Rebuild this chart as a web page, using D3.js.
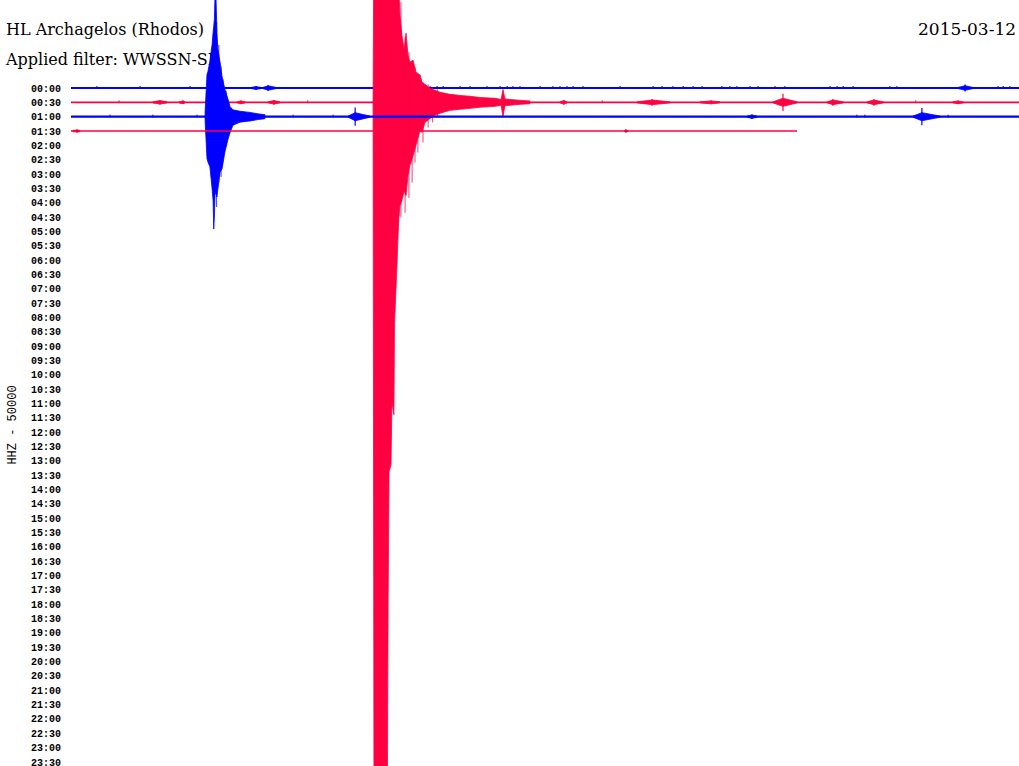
<!DOCTYPE html>
<html>
<head>
<meta charset="utf-8">
<title>HL Archagelos helicorder</title>
<script src="https://d3js.org/d3.v7.min.js"></script>
<style>
body { margin: 0; background: #fff; }
svg { display: block; background: #fff; }
.head { font-family: "DejaVu Serif", serif; font-size: 16px; fill: #000; }
.rowlabel { font-family: "Liberation Mono", monospace; font-size: 10px; font-weight: bold; fill: #000; }
.chan { font-family: "Liberation Mono", monospace; font-size: 12px; fill: #000; }
</style>
</head>
<body>
<svg width="1019" height="766"></svg>
<script>
// header texts
var station = "HL Archagelos (Rhodos)";
var filterText = "Applied filter: WWSSN-SP";
var dayText = "2015-03-12";
var channelText = "HHZ - 50000";

// one row = 30 minutes, amplitude in thousands of counts (50k per row)
var rowMinutes = 30;
var countsPerRow = 50;
var rowLabels = ["00:00","00:30","01:00","01:30","02:00","02:30","03:00","03:30",
  "04:00","04:30","05:00","05:30","06:00","06:30","07:00","07:30",
  "08:00","08:30","09:00","09:30","10:00","10:30","11:00","11:30",
  "12:00","12:30","13:00","13:30","14:00","14:30","15:00","15:30",
  "16:00","16:30","17:00","17:30","18:00","18:30","19:00","19:30",
  "20:00","20:30","21:00","21:30","22:00","22:30","23:00","23:30"];
var traceColors = ["#0000ff", "#ff0040"];
// minutes recorded in each row so far
var recorded = [30, 30, 30, 22.69];

// big events envelope: [minute, upper kcounts, lower kcounts]
var quakeRow2 = [[4.19,17,-14],[4.25,147,-147],[4.28,158,-158],[4.34,193,-175],[4.38,228,-217],
  [4.41,252,-252],[4.44,294,-291],[4.46,315,-392],[4.48,340,-350],[4.50,420,-273],[4.53,420,-263],
  [4.56,294,-280],[4.59,235,-252],[4.66,189,-193],[4.72,140,-182],[4.81,95,-123],[4.91,60,-77],
  [4.97,35,-56],[5.06,24,-30],[5.28,19,-19],[5.59,15,-15],[5.84,10,-10],[6.06,7,-7]];
var quakeRow1 = [[9.44,5,-5],[9.47,700,-2600],[9.88,700,-2600],[9.91,700,-1743],[9.94,700,-1288],
  [10.0,700,-1264],[10.03,700,-1043],[10.09,700,-1089],[10.11,700,-770],[10.19,700,-560],
  [10.22,700,-466],[10.25,380,-396],[10.28,305,-360],[10.34,235,-343],[10.41,182,-308],
  [10.47,241,-325],[10.53,165,-256],[10.59,140,-220],[10.69,147,-186],[10.78,105,-150],
  [10.91,95,-98],[10.97,70,-105],[11.06,63,-70],[11.22,49,-56],[11.38,42,-45],[11.53,35,-38],
  [11.84,28,-28],[12.16,24,-24],[12.47,21,-21],[12.78,17,-17],[13.25,14,-14],[13.44,10,-10],
  [13.5,45,-49],[13.56,12,-12],[13.72,10,-10],[14.03,7,-7],[14.34,5,-5]];
// thin peaks sticking out of the envelopes: [minute, upper, lower]
var peaksRow1 = [[10.31,350,-400],[10.44,228,-385],[10.56,175,-333],[10.66,140,-280],
  [10.75,123,-210],[10.84,88,-175],[11.0,70,-140],[11.16,63,-88],[11.3,52,-70],[11.45,45,-52]];
var peaksRow2 = [[4.55,330,-315],[4.62,250,-230],[4.69,175,-210],[4.75,130,-150],[4.85,90,-100]];

// small wavelets: [start, peak, end, body kcounts, peak kcounts]
var bursts0 = [[5.63,5.78,5.94,5,7],[6.0,6.16,6.41,8,10],[27.72,27.94,28.19,8,12]];
var bursts1 = [[2.56,2.78,3.0,6,8],[3.38,3.5,3.56,5,6],[5.19,5.31,5.44,5,6],[6.16,6.34,6.53,6,8],
  [15.28,15.4,15.5,6,8],[17.69,18.16,18.72,8,12],[19.66,20.0,20.28,5,7],[21.94,22.25,22.69,14,30],
  [23.63,23.81,24.13,8,12],[24.88,25.09,25.38,8,12],[27.56,27.72,27.88,5,6]];
var bursts2 = [[8.66,8.88,9.34,14,32],[21.13,21.28,21.44,6,8],[26.31,26.59,27.16,14,30]];
var bursts3 = [[0.06,0.19,0.28,4,5],[17.3,17.34,17.4,4,5]];

// single noise spikes (minute)
var spikes0 = [0.81,2.16,3.72,11.22,11.44,11.63,12.16,12.47,13.0,13.41,13.63,13.81,14.03,14.66,
  15.06,15.28,15.5,15.69,16.0,17.16,18.19,18.47,18.81,19.13,19.44,19.72,20.34,20.59,20.81,21.22,
  21.47,22.0,22.31,23.72,23.94,24.13,24.44,25.59,25.81,28.97,29.13,29.34];
var spikes1 = [1.5, 4.6, 7.4, 16.6, 26.4];
var spikes2 = [1.22,2.56,3.94,5.91,6.94,8.19,24.56,24.81,27.41];
var spikes3 = [];

var svg = d3.select("svg");
var x = d3.scaleLinear().domain([0, rowMinutes]).range([71, 1031]);
var rowY = d3.scaleLinear().domain([0, rowLabels.length - 1]).range([88, 762]);
var amp = d3.scaleLinear().domain([0, countsPerRow]).range([0, rowY(1) - rowY(0)]);

svg.append("text").attr("class", "head").attr("x", 6).attr("y", 35).text(station);
svg.append("text").attr("class", "head").attr("x", 6).attr("y", 65).text(filterText);
svg.append("text").attr("class", "head").attr("x", 918).attr("y", 35)
  .style("font-size", "17px").text(dayText);

svg.append("g").selectAll("text")
  .data(rowLabels)
  .enter().append("text")
    .attr("class", "rowlabel")
    .attr("x", 61)
    .attr("y", function(d, i) { return rowY(i); })
    .attr("dy", "0.35em")
    .attr("text-anchor", "end")
    .text(function(d) { return d; });

svg.append("text").attr("class", "chan")
  .attr("transform", "translate(16,425) rotate(-90)")
  .attr("text-anchor", "middle")
  .text(channelText);

var rows = [
  {bursts: bursts0, spikes: spikes0, quake: null, peaks: []},
  {bursts: bursts1, spikes: spikes1, quake: quakeRow1, peaks: peaksRow1},
  {bursts: bursts2, spikes: spikes2, quake: quakeRow2, peaks: peaksRow2},
  {bursts: bursts3, spikes: spikes3, quake: null, peaks: []}
];

rows.forEach(function(r, i) {
  var col = traceColors[i % 2];
  var base = rowY(i);
  var g = svg.append("g");
  var area = d3.area()
    .x(function(d) { return x(d[0]); })
    .y0(function(d) { return base - amp(d[1]); })
    .y1(function(d) { return base - amp(d[2]); });

  g.append("line")
    .attr("x1", x(0)).attr("x2", x(recorded[i]))
    .attr("y1", base).attr("y2", base)
    .attr("stroke", col)
    .attr("stroke-width", i % 2 ? 1.6 : 2.2);

  g.selectAll("line.spike")
    .data(r.spikes)
    .enter().append("line")
      .attr("class", "spike")
      .attr("x1", function(d) { return x(d); }).attr("x2", function(d) { return x(d); })
      .attr("y1", base - amp(7)).attr("y2", base + amp(3))
      .attr("stroke", col).attr("stroke-width", 1);

  g.selectAll("path.burst")
    .data(r.bursts)
    .enter().append("path")
      .attr("class", "burst")
      .attr("d", function(b) {
        return area([[b[0], 2, -2], [b[1], b[3], -b[3]], [b[2], 2, -2]]);
      })
      .attr("fill", col).attr("stroke", col).attr("stroke-width", 0.8);

  g.selectAll("line.bpeak")
    .data(r.bursts)
    .enter().append("line")
      .attr("class", "bpeak")
      .attr("x1", function(b) { return x(b[1]); }).attr("x2", function(b) { return x(b[1]); })
      .attr("y1", function(b) { return base - amp(b[4]); })
      .attr("y2", function(b) { return base + amp(b[4]); })
      .attr("stroke", col).attr("stroke-width", 1.2);

  if (r.quake) {
    g.append("path")
      .attr("d", area(r.quake))
      .attr("fill", col).attr("stroke", col).attr("stroke-width", 0.8);
  }

  g.selectAll("line.peak")
    .data(r.peaks)
    .enter().append("line")
      .attr("class", "peak")
      .attr("x1", function(d) { return x(d[0]); }).attr("x2", function(d) { return x(d[0]); })
      .attr("y1", function(d) { return base - amp(d[1]); })
      .attr("y2", function(d) { return base - amp(d[2]); })
      .attr("stroke", col).attr("stroke-width", 1).attr("stroke-opacity", 0.75);
});
</script>
</body>
</html>
